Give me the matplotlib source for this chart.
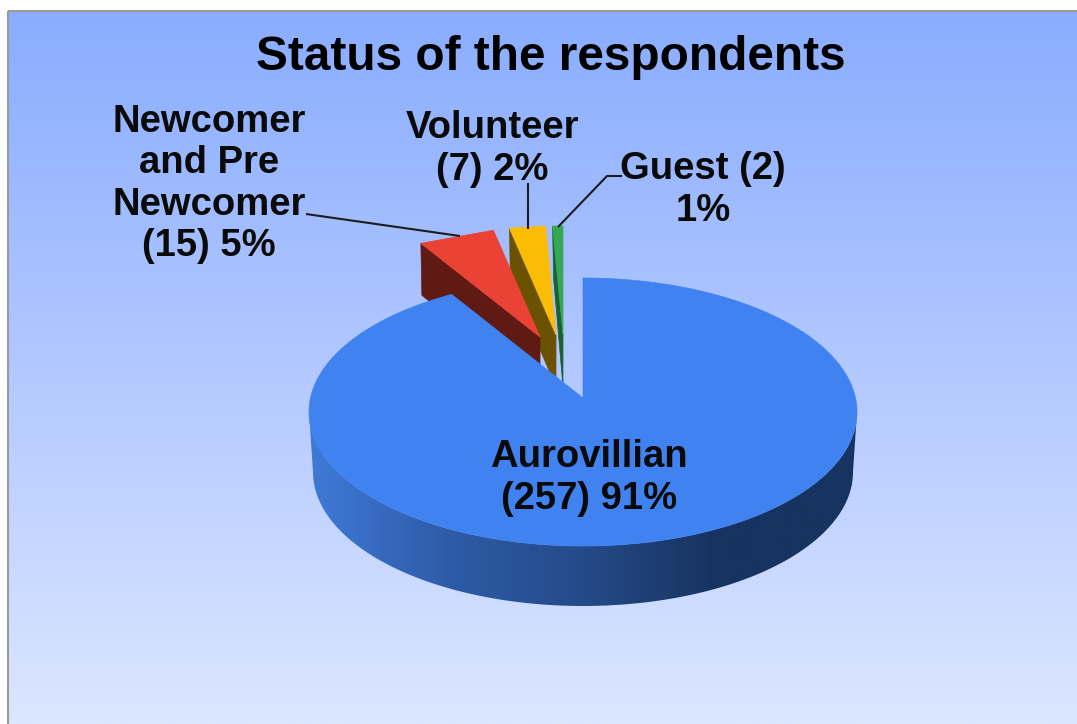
import numpy as np
import matplotlib
matplotlib.use("Agg")
import matplotlib.pyplot as plt
from matplotlib.patches import Polygon, Rectangle
from matplotlib.colors import LinearSegmentedColormap

plt.rcParams['font.family'] = ['Liberation Sans', 'DejaVu Sans']

title = "Status of the respondents"
categories = ["Aurovillian", "Newcomer and Pre Newcomer", "Volunteer", "Guest"]
values = [257, 15, 7, 2]
labels = ["Aurovillian\n(257) 91%", "Newcomer\nand Pre\nNewcomer\n(15) 5%", "Volunteer\n(7) 2%", "Guest (2)\n1%"]

W, H = 1077, 724
fig = plt.figure(figsize=(W / 100, H / 100), dpi=100, facecolor="white")
ax = fig.add_axes([0, 0, 1, 1])
ax.set_xlim(0, W)
ax.set_ylim(H, 0)
ax.axis("off")

# background gradient
bg = LinearSegmentedColormap.from_list("bg", ["#8aadff", "#b2c8ff", "#dbe6ff"])
im = ax.imshow(np.linspace(0, 1, 256)[:, None], cmap=bg, extent=[8, W, H, 11], aspect="auto", zorder=0)
ax.set_xlim(0, W)
ax.set_ylim(H, 0)
ax.add_patch(Rectangle((8, 11), W, H, fill=False, ec="#9a9a9a", lw=1.5, zorder=1))

# slice angles, clockwise from 12 o'clock
edges = np.concatenate([[0], np.cumsum(values)]) / np.sum(values) * 360.0


def rim(cx, cy, rx, ry, a0, a1, n=200):
    t = np.radians(np.linspace(a0, a1, n))
    return np.column_stack([cx + rx * np.sin(t), cy - ry * np.cos(t)])


# exploded small slices share one ellipse, each has its own apex
RX, RY, DEPTH = 233, 109, 52
slices = [
    (3, (563, 335), "#34a853", "#1a6030"),
    (2, (556, 335), "#fbbc04", "#6b5200"),
    (1, (540, 337), "#ea4335", "#5f1a13"),
]
for i, (ax0, ay0), face, dark in slices:
    a0, a1 = edges[i], edges[i + 1]
    outer = rim(ax0, ay0, RX, RY, a0, a1, 2)
    first = outer[0]
    cut = np.array([first, (ax0, ay0), (ax0, ay0 + DEPTH), (first[0] + 1, first[1] + DEPTH)])
    ax.add_patch(Polygon(cut, closed=True, fc=dark, ec=dark, lw=0.5, zorder=2 + (3 - i)))
    ax.add_patch(Polygon(np.vstack([[(ax0, ay0)], outer]), closed=True, fc=face, ec=face, lw=0.5, zorder=2.5 + (3 - i)))

# large slice: side wall with horizontal shading, then top
CX, CY, BRX, BRY = 583, 412, 274, 134
wall_depth = 60
upper = rim(CX, CY, BRX, BRY, 90, 270)
lower = rim(CX, CY + wall_depth, BRX - 4, BRY, 270, 90)
wall = Polygon(np.vstack([upper, lower]), closed=True, fc="none", ec="none", zorder=7)
ax.add_patch(wall)
shade = LinearSegmentedColormap.from_list("wall", ["#3f7ad8", "#2e5ca8", "#244a88", "#17335f", "#17335f"])
g = ax.imshow(np.linspace(0, 1, 256)[None, :], cmap=shade, aspect="auto",
              extent=[CX - BRX, CX + BRX, CY + BRY + wall_depth, CY - 5], zorder=7)
g.set_clip_path(wall)
ax.set_xlim(0, W)
ax.set_ylim(H, 0)

top_rim = rim(CX, CY, BRX, BRY, 0, edges[1] + 2.1, 360)
ax.add_patch(Polygon(np.vstack([[(CX, 398)], top_rim]), closed=True, fc="#4083f0", ec="#4083f0", lw=0.5, zorder=8))

# leader lines
leaders = [
    [(306, 214), (460, 236)],
    [(528, 183), (528, 229)],
    [(622, 176), (607, 176), (558, 227)],
]
for pts in leaders:
    xs, ys = zip(*pts)
    ax.plot(xs, ys, color="#1c1c1c", lw=1.5, zorder=9, solid_capstyle="butt")

ax.text(551, 57, title, fontsize=34.4, fontweight="bold", ha="center", va="center", zorder=10)
label_pos = [(589, 478), (209, 184), (492, 149), (703, 190)]
for lab, (x, y) in zip(labels, label_pos):
    ax.text(x, y, lab, fontsize=27.5, fontweight="bold", ha="center", va="center",
            linespacing=1.2, zorder=10, color="#0a0a0a")

fig.savefig("out.png", dpi=100)
